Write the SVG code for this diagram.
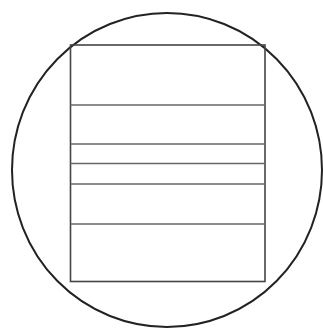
<svg xmlns="http://www.w3.org/2000/svg" width="323" height="329" viewBox="0 0 323 329">
<style>
.c{fill:none;stroke:#222;stroke-width:2}
.r{fill:none;stroke:#444;stroke-width:1.6}
.l{stroke:#666;stroke-width:1.4}
</style>
<rect width="323" height="329" fill="#fff"/>
<g id="circle"><ellipse class="c" cx="167" cy="170" rx="155" ry="157"/></g>
<g id="block">
<rect class="r" x="70.5" y="45" width="194.5" height="236.5"/>
<line class="l" x1="70.5" y1="105" x2="265" y2="105"/>
<line class="l" x1="70.5" y1="144" x2="265" y2="144"/>
<line class="l" x1="70.5" y1="163.5" x2="265" y2="163.5"/>
<line class="l" x1="70.5" y1="184" x2="265" y2="184"/>
<line class="l" x1="70.5" y1="224" x2="265" y2="224"/>
</g>
</svg>
